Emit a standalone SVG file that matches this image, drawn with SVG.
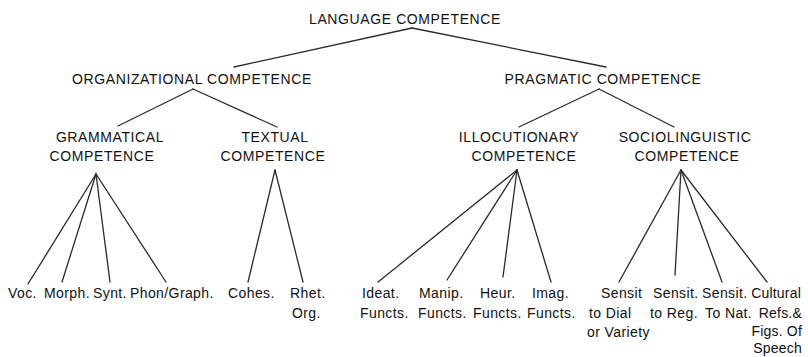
<svg xmlns="http://www.w3.org/2000/svg" width="808" height="357" viewBox="0 0 808 357">
<style>
text{font-family:"Liberation Sans",Arial,sans-serif;font-size:14px;fill:#111}
.h{text-anchor:middle;letter-spacing:0.6px}
.l{letter-spacing:0.4px}
.r{text-anchor:end;letter-spacing:0.2px}
.c line{stroke:#2a2a2a;stroke-width:1.3;stroke-linecap:round}
</style>
<rect width="808" height="357" fill="#fff"/>
<g class="c" id="connectors">
<line x1="412" y1="28" x2="234" y2="67"/>
<line x1="412" y1="28" x2="606" y2="67"/>
<line x1="193" y1="89" x2="118" y2="126"/>
<line x1="193" y1="89" x2="277" y2="127"/>
<line x1="599" y1="89" x2="519" y2="127"/>
<line x1="599" y1="89" x2="674" y2="127"/>
<line x1="96" y1="174" x2="28" y2="284"/>
<line x1="96" y1="174" x2="62" y2="282"/>
<line x1="96" y1="174" x2="110" y2="282"/>
<line x1="96" y1="174" x2="166" y2="282"/>
<line x1="275" y1="170" x2="248" y2="282"/>
<line x1="275" y1="170" x2="303" y2="282"/>
<line x1="517" y1="170" x2="378" y2="282"/>
<line x1="517" y1="170" x2="447" y2="280"/>
<line x1="517" y1="170" x2="503" y2="277"/>
<line x1="517" y1="170" x2="551" y2="282"/>
<line x1="681" y1="170" x2="619" y2="282"/>
<line x1="681" y1="170" x2="675" y2="275"/>
<line x1="681" y1="170" x2="722" y2="282"/>
<line x1="681" y1="170" x2="767" y2="282"/>
</g>
<g id="language"><text class="h" x="405" y="24">LANGUAGE COMPETENCE</text></g>
<g id="organizational"><text class="h" x="192" y="84">ORGANIZATIONAL COMPETENCE</text></g>
<g id="pragmatic"><text class="h" x="603" y="84">PRAGMATIC COMPETENCE</text></g>
<g id="grammatical"><text class="h" x="110" y="142">GRAMMATICAL</text><text class="h" x="102" y="161">COMPETENCE</text></g>
<g id="textual"><text class="h" x="275" y="142">TEXTUAL</text><text class="h" x="273" y="161">COMPETENCE</text></g>
<g id="illocutionary"><text class="h" x="519" y="142">ILLOCUTIONARY</text><text class="h" x="524" y="161">COMPETENCE</text></g>
<g id="sociolinguistic"><text class="h" x="685" y="142">SOCIOLINGUISTIC</text><text class="h" x="687" y="161">COMPETENCE</text></g>
<g id="voc"><text class="l" x="8" y="298">Voc.</text></g>
<g id="morph"><text class="l" x="44" y="298">Morph.</text></g>
<g id="synt"><text class="l" x="93" y="298">Synt.</text></g>
<g id="phon"><text class="l" x="130" y="298">Phon/Graph.</text></g>
<g id="cohes"><text class="l" x="228" y="298">Cohes.</text></g>
<g id="rhet"><text class="l" x="290" y="298">Rhet.</text><text class="l" x="292" y="318">Org.</text></g>
<g id="ideat"><text class="l" x="362" y="298">Ideat.</text><text class="l" x="360" y="318">Functs.</text></g>
<g id="manip"><text class="l" x="419" y="298">Manip.</text><text class="l" x="418" y="318">Functs.</text></g>
<g id="heur"><text class="l" x="480" y="298">Heur.</text><text class="l" x="473" y="318">Functs.</text></g>
<g id="imag"><text class="l" x="532" y="298">Imag.</text><text class="l" x="527" y="318">Functs.</text></g>
<g id="sensit-dial"><text class="l" x="601" y="298">Sensit</text><text class="l" x="589" y="318">to Dial</text><text class="l" x="587" y="337">or Variety</text></g>
<g id="sensit-reg"><text class="l" x="653" y="298">Sensit.</text><text class="l" x="650" y="318">to Reg.</text></g>
<g id="sensit-nat"><text class="l" x="702" y="298">Sensit.</text><text class="l" x="705" y="318">To Nat.</text></g>
<g id="cultural"><text class="r" x="801" y="298">Cultural</text><text class="r" x="802" y="318">Refs.&amp;</text><text class="r" x="802" y="336">Figs. Of</text><text class="r" x="802" y="353">Speech</text></g>
</svg>
